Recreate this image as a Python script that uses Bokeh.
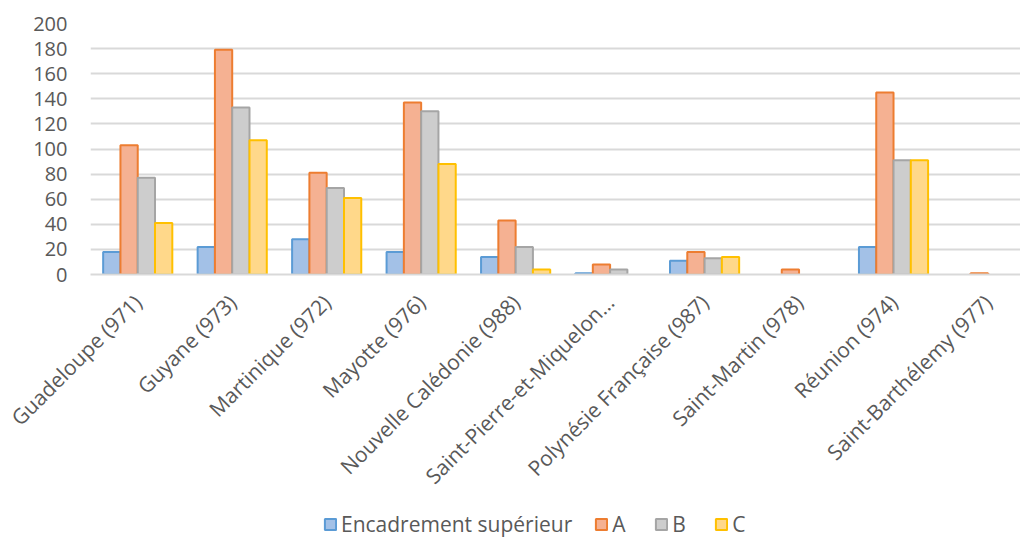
import math
from bokeh.plotting import figure
from bokeh.layouts import column
from bokeh.models import (ColumnDataSource, Range1d, FixedTicker, Legend, LegendItem)
from bokeh.transform import dodge
from bokeh.embed import file_html
from bokeh.resources import INLINE

categories = [
    "Guadeloupe (971)", "Guyane (973)", "Martinique (972)", "Mayotte (976)",
    "Nouvelle Calédonie (988)", "Saint-Pierre-et-Miquelon…",
    "Polynésie Française (987)", "Saint-Martin (978)", "Réunion (974)",
    "Saint-Barthélemy (977)",
]
encadrement = [18, 22, 28, 18, 14, 1, 11, 0, 22, 0]
serie_a = [103, 179, 81, 137, 43, 8, 18, 4, 145, 1]
serie_b = [77, 133, 69, 130, 22, 4, 13, 0, 91, 0]
serie_c = [41, 107, 61, 88, 4, 0, 14, 0, 91, 0]
y_ticks = list(range(0, 201, 20))

series = [
    ("Encadrement supérieur", encadrement, "#a3c1e7", "#5b9bd5"),
    ("A", serie_a, "#f5b192", "#ed7d31"),
    ("B", serie_b, "#cdcdcd", "#a5a5a5"),
    ("C", serie_c, "#ffd88a", "#ffc000"),
]

FONT = "Open Sans"
TEXT = "#595959"
FS = "21px"

p = figure(width=1020, height=510, output_backend="svg", toolbar_location=None,
           x_range=Range1d(-0.5, 9.344), y_range=Range1d(0, 200),
           min_border_left=90, min_border_right=0, min_border_top=23,
           min_border_bottom=236, outline_line_color=None)

bw = 0.183
x_idx = list(range(len(categories)))

# strip under the chart that carries the legend
leg = figure(width=1020, height=28, output_backend="svg", toolbar_location=None,
             min_border=0, outline_line_color=None,
             x_range=Range1d(0, 1), y_range=Range1d(0, 1))
leg.axis.visible = False
leg.grid.grid_line_color = None

items = []
for k, (label, vals, fill, line) in enumerate(series):
    src = ColumnDataSource(dict(
        x=x_idx, top=vals,
        # a bar of height zero leaves no outline on the axis
        outline=[0.0 if v == 0 else 1.0 for v in vals],
    ))
    p.vbar(x=dodge("x", (k - 1.5) * bw, range=p.x_range), top="top", width=bw,
           source=src, fill_color=fill, line_color=line, line_width=2,
           line_alpha="outline")
    # legend key swatch: same styling, hidden from the strip itself
    key = leg.vbar(x=x_idx, top=vals, width=0.1, fill_color=fill,
                   line_color=line, line_width=2, visible=False)
    items.append(LegendItem(label=label, renderers=[key]))

p.xgrid.grid_line_color = None
p.ygrid.grid_line_color = "#d9d9d9"
p.ygrid.grid_line_width = 2
p.yaxis.ticker = FixedTicker(ticks=y_ticks)
p.yaxis.axis_line_color = None
p.yaxis.major_tick_line_color = None
p.yaxis.minor_tick_line_color = None
p.yaxis.major_label_text_font = FONT
p.yaxis.major_label_text_font_size = "20px"
p.yaxis.major_label_text_color = TEXT
p.yaxis.major_label_standoff = 17

p.xaxis.ticker = FixedTicker(ticks=x_idx)
p.xaxis.major_label_overrides = {i: c for i, c in enumerate(categories)}
p.xaxis.major_label_orientation = math.pi / 4
p.xaxis.axis_line_color = "#d9d9d9"
p.xaxis.axis_line_width = 2
p.xaxis.major_tick_line_color = None
p.xaxis.minor_tick_line_color = None
p.xaxis.major_label_text_font = FONT
p.xaxis.major_label_text_font_size = FS
p.xaxis.major_label_text_color = TEXT
p.xaxis.major_label_standoff = 18

legend = Legend(items=items, orientation="horizontal", location=(233, 0),
                label_text_font=FONT, label_text_font_size=FS,
                label_text_color=TEXT, glyph_width=14, glyph_height=14,
                spacing=22, label_standoff=4, border_line_color=None,
                background_fill_alpha=0, padding=0, margin=0,
                inactive_fill_alpha=0)
leg.add_layout(legend)

open("out.html", "w").write(file_html(column(p, leg, spacing=0), INLINE))
